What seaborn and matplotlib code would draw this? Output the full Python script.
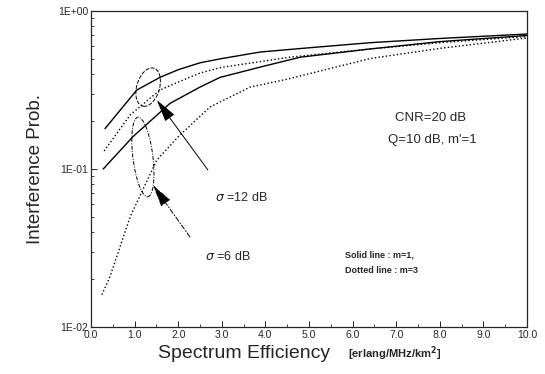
import matplotlib
matplotlib.use("Agg")
import matplotlib.pyplot as plt
import seaborn as sns
import numpy as np
import pandas as pd
from matplotlib.patches import Ellipse
from matplotlib.ticker import LogLocator, NullFormatter, MultipleLocator

# ---- data ----
x_s12_m1 = [0.32, 1.05, 1.58, 2.0, 2.5, 3.0, 3.88, 5.0, 6.4, 8.0, 10.0]
y_s12_m1 = [0.18, 0.316, 0.38, 0.425, 0.47, 0.50, 0.55, 0.585, 0.63, 0.67, 0.715]

x_s12_m3 = [0.3, 0.9, 1.58, 2.0, 2.5, 3.0, 4.56, 6.4, 8.0, 10.0]
y_s12_m3 = [0.13, 0.22, 0.316, 0.355, 0.405, 0.44, 0.51, 0.575, 0.63, 0.69]

x_s6_m1 = [0.28, 0.96, 1.81, 2.5, 2.96, 4.0, 4.8, 6.4, 8.0, 10.0]
y_s6_m1 = [0.10, 0.16, 0.26, 0.33, 0.38, 0.45, 0.51, 0.575, 0.64, 0.70]

x_s6_m3 = [0.25, 0.44, 0.9, 1.51, 2.0, 2.73, 3.65, 4.5, 6.4, 8.0, 10.0]
y_s6_m3 = [0.016, 0.021, 0.05, 0.114, 0.16, 0.247, 0.33, 0.37, 0.50, 0.58, 0.675]

xtick_vals = [0, 1, 2, 3, 4, 5, 6, 7, 8, 9, 10]
xtick_labels = ["0.0", "1.0", "2.0", "3.0", "4.0", "5.0", "6.0", "7.0", "8.0", "9.0", "10.0"]
ytick_vals = [0.01, 0.1, 1.0]
ytick_labels = ["1E-02", "1E-01", "1E+00"]

sns.set_style("ticks")
plt.rcParams['font.family'] = ['Liberation Sans', 'DejaVu Sans']

fig = plt.figure(figsize=(5.45, 3.74), dpi=100)
ax = fig.add_axes([91/545, 1-327/374, 436/545, 316/374])

series = [
    (x_s12_m1, y_s12_m1, "-", 1.0),
    (x_s12_m3, y_s12_m3, ":", 1.0),
    (x_s6_m1, y_s6_m1, "-", 1.0),
    (x_s6_m3, y_s6_m3, ":", 1.0),
]
for xs, ys, ls, lw in series:
    df = pd.DataFrame({"x": xs, "y": ys})
    sns.lineplot(data=df, x="x", y="y", ax=ax, color="black", linestyle=ls,
                 linewidth=lw, estimator=None, sort=False)

ax.set_yscale("log")
ax.set_xlim(0, 10)
ax.set_ylim(0.01, 1.0)
ax.set_xticks(xtick_vals)
ax.set_xticklabels(xtick_labels)
ax.xaxis.set_minor_locator(MultipleLocator(0.5))
ax.set_yticks(ytick_vals)
ax.set_yticklabels(ytick_labels)
ax.yaxis.set_minor_locator(LogLocator(base=10, subs=np.arange(2, 10)))
ax.yaxis.set_minor_formatter(NullFormatter())
ax.tick_params(which="major", direction="in", length=4, width=0.7, labelsize=7.5, pad=2)
ax.tick_params(which="minor", direction="in", length=2, width=0.6)
for sp in ax.spines.values():
    sp.set_linewidth(0.9)
ax.set_xlabel("")
ax.set_ylabel("Interference Prob.", fontsize=13.5, labelpad=10)

# x label composed of two parts
fig.text(158/545, 1-358/374, "Spectrum Efficiency", fontsize=14, ha="left", va="baseline")
fig.text(348/545, 1-358/374, "[erlang/MHz/km$^\\mathbf{2}$]", fontsize=8, fontweight="bold",
         ha="left", va="baseline")

# ellipses (axes fraction)
ax.add_patch(Ellipse((0.131, 0.759), 0.053, 0.123, angle=-10, transform=ax.transAxes,
                     fill=False, ec="black", lw=0.7, ls=(0, (4, 1.5))))
ax.add_patch(Ellipse((0.119, 0.538), 0.046, 0.253, angle=5, transform=ax.transAxes,
                     fill=False, ec="black", lw=0.7, ls=(0, (4, 1.5, 1, 1.5))))

# arrows
arrowprops = dict(arrowstyle="-|>,head_length=1.0,head_width=0.25", color="black",
                  lw=0.7, shrinkA=0, shrinkB=0, mutation_scale=14)
ax.annotate("", xy=(0.151, 0.718), xytext=(0.268, 0.497), xycoords="axes fraction",
            textcoords="axes fraction", arrowprops=arrowprops)
ap2 = dict(arrowprops)
ap2["linestyle"] = (0, (5, 2, 1, 2))
ax.annotate("", xy=(0.142, 0.449), xytext=(0.227, 0.285), xycoords="axes fraction",
            textcoords="axes fraction", arrowprops=ap2)

# texts
ax.text(0.284, 0.411, "$\\sigma$ =12 dB", transform=ax.transAxes, fontsize=9, va="center", ha="left")
ax.text(0.261, 0.222, "$\\sigma$ =6 dB", transform=ax.transAxes, fontsize=9, va="center", ha="left")
ax.text(0.778, 0.661, "CNR=20 dB", transform=ax.transAxes, fontsize=9.5, va="center", ha="center")
ax.text(0.784, 0.592, "Q=10 dB, m'=1", transform=ax.transAxes, fontsize=9.5, va="center", ha="center")
ax.text(0.583, 0.228, "Solid line : m=1,", transform=ax.transAxes, fontsize=6.5,
        fontweight="bold", va="center", ha="left")
ax.text(0.583, 0.180, "Dotted line : m=3", transform=ax.transAxes, fontsize=6.5,
        fontweight="bold", va="center", ha="left")

fig.savefig("out.png", dpi=100)
